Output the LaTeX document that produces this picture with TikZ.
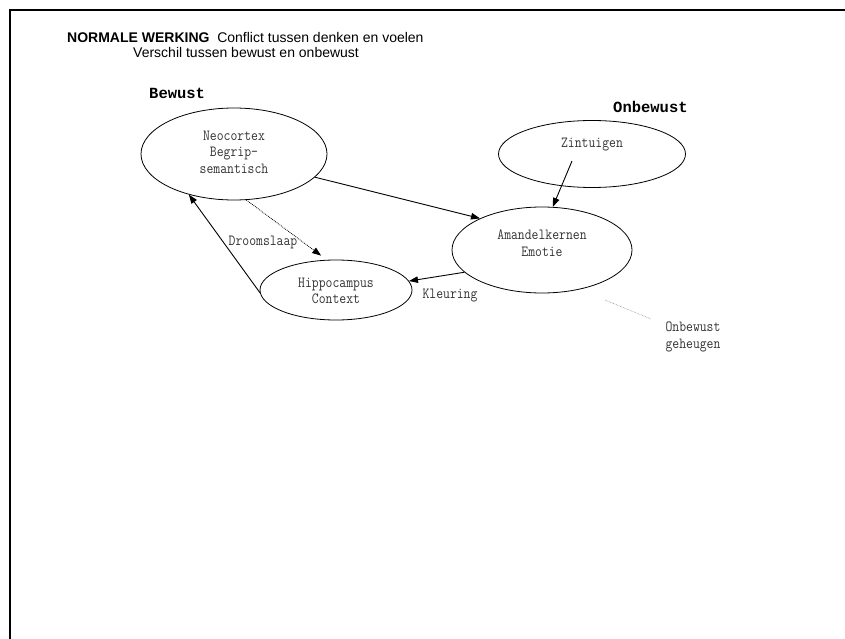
\documentclass[tikz,border=0pt]{standalone}
\usepackage{fontspec}
\setmainfont{Liberation Sans}
\newfontfamily\headfont{Liberation Mono}
\newfontfamily\monofont[FakeStretch=0.86]{Latin Modern Mono}
\usetikzlibrary{shapes.geometric,arrows.meta}

\begin{document}
\begin{tikzpicture}[x=1pt,y=-1pt,
  region/.style={draw,ellipse,line width=0.8pt,inner sep=0pt},
  inner/.style={font=\monofont\fontsize{15.5}{16.5}\selectfont,text=black!80,align=center,inner sep=0pt},
  heading/.style={font=\headfont\bfseries\fontsize{15.5}{18}\selectfont,inner sep=0pt},
  titletext/.style={font=\fontsize{14}{16}\selectfont,inner sep=0pt},
  link/.style={line width=0.9pt,-{Triangle[length=9pt,width=6.5pt]}},
  dream/.style={line width=0.8pt,densely dotted,-{Triangle[length=9pt,width=6.5pt]}},
  hint/.style={line width=0.5pt,black!60,densely dotted}]

  % page area and frame
  \useasboundingbox (0,0) rectangle (845,639);
  \draw[line width=2pt] (10,639) -- (10,10) -- (845,10);

  % title
  \node[titletext,anchor=base west] (title1) at (67,42.5)
    {\textbf{NORMALE WERKING}\ \ Conflict tussen denken en voelen};
  \node[titletext,anchor=base west] (title2) at (133,58)
    {Verschil tussen bewust en onbewust};

  % side headings
  \node[heading,anchor=base west] (bewust) at (149,99) {Bewust};
  \node[heading,anchor=base west] (onbewust) at (613,113) {Onbewust};

  % brain regions
  \node[region,minimum width=186pt,minimum height=92pt] (neo) at (234,154) {};
  \node[region,minimum width=152pt,minimum height=60pt] (hip) at (336,290) {};
  \node[region,minimum width=180pt,minimum height=86pt] (ama) at (542,250) {};
  \node[region,minimum width=187pt,minimum height=67pt] (zin) at (592,154) {};

  \node[inner] (neoT) at (234,152) {Neocortex\\Begrip-\\semantisch};
  \node[inner] (hipT) at (336,291) {Hippocampus\\Context};
  \node[inner] (amaT) at (542,243) {Amandelkernen\\Emotie};
  \node[inner] (zinT) at (592,145) {Zintuigen};

  % connector labels
  \node[inner] (droom) at (263,242) {Droomslaap};
  \node[inner] (kleur) at (450,296) {Kleuring};
  \node[inner] (geh) at (693,337) {Onbewust\\geheugen};

  % connectors
  \coordinate (zinS) at (572,161);
  \draw[link] (neo.-16) -- (ama.153);
  \draw[link] (zinS) -- (ama.76);
  \draw[link] (ama.196) -- (hip.7);
  \draw[link] (hip.182) -- (neo.222);
  \draw[dream,shorten >=7pt] (neo.-75) -- (hip.107);

  \coordinate (gA) at (605,300);
  \coordinate (gB) at (651,319);
  \draw[hint] (gA) -- (gB);
\end{tikzpicture}
\end{document}
